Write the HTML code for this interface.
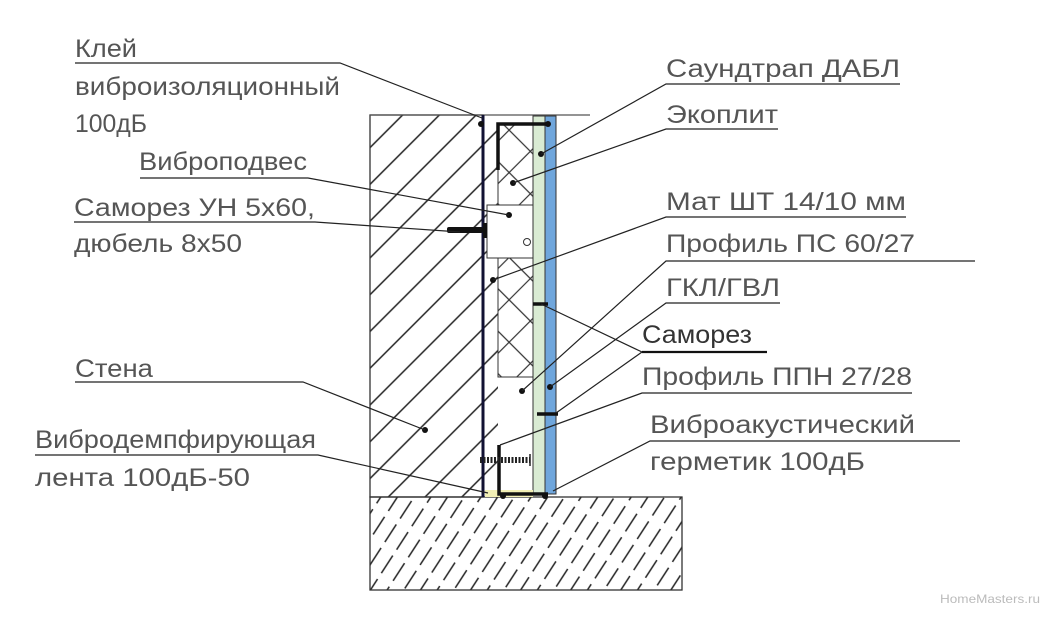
<!DOCTYPE html>
<html><head><meta charset="utf-8"><style>
html,body{margin:0;padding:0;background:#fff;width:1054px;height:617px;overflow:hidden}
svg text{font-family:"Liberation Sans Narrow","Liberation Sans",sans-serif;font-size:25px;fill:#555}
</style></head><body>
<svg width="1054" height="617" viewBox="0 0 1054 617" xmlns="http://www.w3.org/2000/svg">
<defs>
<pattern id="wh" patternUnits="userSpaceOnUse" width="26" height="26" patternTransform="rotate(45)">
<line x1="2" y1="0" x2="2" y2="26" stroke="#222" stroke-width="1.5"/>
</pattern>
<pattern id="fh" patternUnits="userSpaceOnUse" width="14" height="28" patternTransform="rotate(33)">
<line x1="2" y1="0" x2="2" y2="21" stroke="#222" stroke-width="1.5"/>
</pattern>
<pattern id="xh" patternUnits="userSpaceOnUse" width="30" height="30" patternTransform="rotate(45)">
<line x1="2" y1="0" x2="2" y2="30" stroke="#333" stroke-width="1.2"/>
<line x1="0" y1="2" x2="30" y2="2" stroke="#333" stroke-width="1.2"/>
</pattern>
</defs>
<rect x="370" y="115" width="128" height="382" fill="url(#wh)"/>
<rect x="370" y="115" width="113" height="382" fill="none" stroke="#333" stroke-width="1.3"/>
<line x1="370" y1="115" x2="590" y2="115" stroke="#555" stroke-width="1.3"/>
<rect x="370" y="497" width="312" height="93" fill="url(#fh)" stroke="#333" stroke-width="1.3"/>
<rect x="498" y="118" width="35" height="379" fill="#fff"/>
<rect x="487" y="205" width="46" height="53" fill="#fff" stroke="#333" stroke-width="1"/>
<rect x="498" y="124" width="35" height="81" fill="url(#xh)" stroke="#333" stroke-width="1"/>
<rect x="498" y="258" width="35" height="119" fill="url(#xh)" stroke="#333" stroke-width="1"/>
<circle cx="527" cy="242" r="3.5" fill="#fff" stroke="#333"/>
<rect x="533" y="116" width="12" height="378" fill="#d9ebd3" stroke="#333" stroke-width="1"/>
<rect x="545" y="116" width="11" height="378" fill="#6fa6dc" stroke="#333" stroke-width="1"/>
<rect x="485" y="490" width="48" height="7" fill="#f2efb5"/>
<line x1="483" y1="115" x2="483" y2="497" stroke="#111133" stroke-width="3"/>
<polyline points="498,170 498,124 548,124" fill="none" stroke="#111" stroke-width="3.5"/>
<polyline points="499,445 499,494 548,494" fill="none" stroke="#111" stroke-width="3.5"/>
<rect x="447" y="227" width="36" height="6" rx="2" fill="#111"/>
<rect x="483" y="223" width="4" height="15" fill="#111"/>
<line x1="480" y1="460" x2="530" y2="460" stroke="#222" stroke-width="6" stroke-dasharray="2,1.5"/>
<line x1="530" y1="454" x2="530" y2="466" stroke="#222" stroke-width="1.5"/>
<line x1="533" y1="304" x2="548" y2="304" stroke="#111" stroke-width="3.5"/>
<line x1="537" y1="414" x2="558" y2="414" stroke="#111" stroke-width="3.5"/>
<g fill="#111">
<circle cx="541" cy="154" r="3"/><circle cx="513" cy="183" r="3"/><circle cx="509" cy="215" r="3"/>
<circle cx="493" cy="280" r="3"/><circle cx="522" cy="391" r="3"/><circle cx="550" cy="387" r="3"/>
<circle cx="425" cy="430" r="3"/><circle cx="503" cy="496" r="3"/><circle cx="545" cy="496" r="3"/>
<circle cx="548" cy="124" r="3"/><circle cx="481" cy="124" r="3"/>
</g>
<g stroke="#222" stroke-width="1.2" fill="none">
<polyline points="75,63 340,63 482,118"/>
<polyline points="140,178 308,178 509,215"/>
<polyline points="74,222 315,222 460,232"/>
<polyline points="75,382 303,382 425,430"/>
<polyline points="35,455 318,455 488,493"/>
<polyline points="900,84 666,84 541,154"/>
<polyline points="778,129 666,129 513,183"/>
<polyline points="906,217 666,217 493,280"/>
<polyline points="975,261 666,261 522,391"/>
<polyline points="780,303 666,303 550,387"/>
<polyline points="541,304 642,352"/>
<polyline points="556,413 642,352"/>
<polyline points="912,393 642,393 500,445"/>
<polyline points="960,441 650,441 553,491"/>
</g>
<line x1="642" y1="352" x2="767" y2="352" stroke="#111" stroke-width="2.2"/>
<text x="75" y="57" textLength="62" lengthAdjust="spacingAndGlyphs">Клей</text>
<text x="75" y="95" textLength="265" lengthAdjust="spacingAndGlyphs">виброизоляционный</text>
<text x="75" y="132" textLength="72" lengthAdjust="spacingAndGlyphs">100дБ</text>
<text x="139" y="170" textLength="168" lengthAdjust="spacingAndGlyphs">Виброподвес</text>
<text x="74" y="216" textLength="241" lengthAdjust="spacingAndGlyphs">Саморез УН 5х60,</text>
<text x="74" y="252" textLength="168" lengthAdjust="spacingAndGlyphs">дюбель 8х50</text>
<text x="75" y="377" textLength="78" lengthAdjust="spacingAndGlyphs">Стена</text>
<text x="35" y="448" textLength="281" lengthAdjust="spacingAndGlyphs">Вибродемпфирующая</text>
<text x="35" y="486" textLength="215" lengthAdjust="spacingAndGlyphs">лента 100дБ-50</text>
<text x="666" y="77" textLength="234" lengthAdjust="spacingAndGlyphs">Саундтрап ДАБЛ</text>
<text x="666" y="123" textLength="112" lengthAdjust="spacingAndGlyphs">Экоплит</text>
<text x="666" y="210" textLength="240" lengthAdjust="spacingAndGlyphs">Мат ШТ 14/10 мм</text>
<text x="666" y="252" textLength="249" lengthAdjust="spacingAndGlyphs">Профиль ПС 60/27</text>
<text x="666" y="296" textLength="114" lengthAdjust="spacingAndGlyphs">ГКЛ/ГВЛ</text>
<text x="642" y="343" textLength="110" lengthAdjust="spacingAndGlyphs" style="fill:#333">Саморез</text>
<text x="642" y="385" textLength="270" lengthAdjust="spacingAndGlyphs">Профиль ППН 27/28</text>
<text x="650" y="433" textLength="265" lengthAdjust="spacingAndGlyphs">Виброакустический</text>
<text x="650" y="470" textLength="215" lengthAdjust="spacingAndGlyphs">герметик 100дБ</text>
<text x="940" y="603" textLength="100" lengthAdjust="spacingAndGlyphs" style="font-size:12px;fill:#bbb">HomeMasters.ru</text>
</svg>
</body></html>
